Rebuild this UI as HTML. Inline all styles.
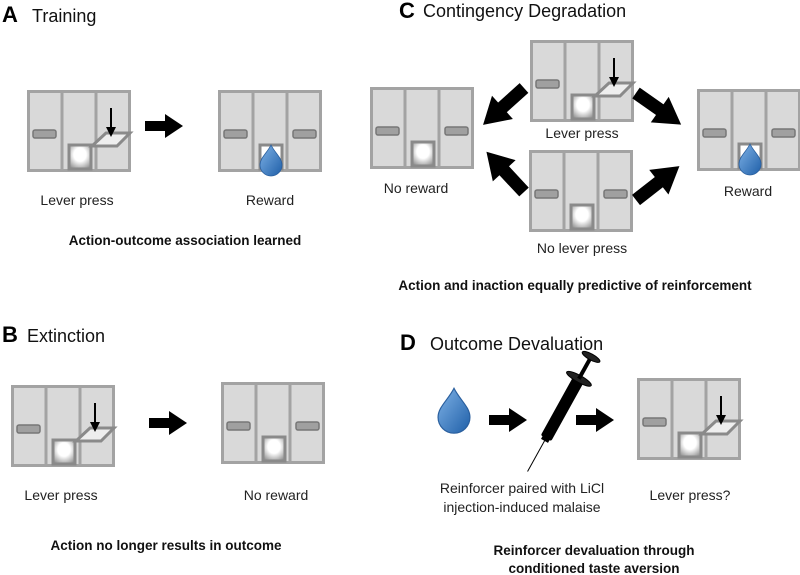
<!DOCTYPE html>
<html><head><style>
html,body{margin:0;padding:0;background:#fff;}
svg{display:block;font-family:"Liberation Sans",sans-serif;}
.t{font-size:14px;fill:#222;}
.b{font-size:13.5px;font-weight:bold;fill:#111;}
.h{font-size:18px;fill:#111;}
.L{font-size:22px;font-weight:bold;fill:#000;}
</style></head><body>
<svg width="800" height="575" viewBox="0 0 800 575" xmlns="http://www.w3.org/2000/svg">
<defs>
<radialGradient id="cg" cx="0.5" cy="0.4" r="0.7"><stop offset="0.4" stop-color="#fff"/><stop offset="1" stop-color="#8a8a8a"/></radialGradient>
<linearGradient id="dg" x1="0" y1="0" x2="1" y2="1"><stop offset="0" stop-color="#7fb2e6"/><stop offset="1" stop-color="#1f5fa8"/></linearGradient>
<g id="frame">
<rect x="1.5" y="1.5" width="101" height="79" fill="#d9d9d9" stroke="#a3a3a3" stroke-width="3"/>
<line x1="35" y1="2" x2="35" y2="80" stroke="#a3a3a3" stroke-width="3"/>
<line x1="69" y1="2" x2="69" y2="80" stroke="#a3a3a3" stroke-width="3"/>
<rect x="6" y="40" width="23" height="8" rx="2" fill="#a0a0a0" stroke="#777" stroke-width="1.5"/>
</g>
<g id="cup"><rect x="42" y="55" width="22" height="24" fill="url(#cg)" stroke="#8a8a8a" stroke-width="3"/></g>
<g id="rl"><rect x="75" y="40" width="23" height="8" rx="2" fill="#a0a0a0" stroke="#777" stroke-width="1.5"/></g>
<g id="press">
<polygon points="65,56 79,43 103,43 90,56" fill="#eeeeee" stroke="#8a8a8a" stroke-width="3"/>
<line x1="84" y1="18" x2="84" y2="44" stroke="#000" stroke-width="2"/>
<polygon points="79,37 89,37 84,47" fill="#000"/>
</g>
<path id="drop" d="M0,-15 C4,-7 11,-2 11,5 A11,11 0 0 1 -11,5 C-11,-2 -4,-7 0,-15Z" fill="url(#dg)" stroke="#2a5f9e" stroke-width="0.8"/>
<g id="bLP"><use href="#frame"/><use href="#cup"/><use href="#press"/></g>
<g id="bNR"><use href="#frame"/><use href="#cup"/><use href="#rl"/></g>
<g id="bRW"><use href="#frame"/><rect x="42" y="55" width="22" height="24" fill="#fff" stroke="#8a8a8a" stroke-width="3"/><use href="#rl"/><use href="#drop" transform="translate(53,70)"/></g>
<g id="arr"><rect x="0" y="-5" width="22" height="10" fill="#000"/><polygon points="20,-12 38,0 20,12" fill="#000"/></g>
</defs>

<!-- A -->
<text x="2" y="22" class="L">A</text><text x="32" y="22" class="h">Training</text>
<use href="#bLP" x="27" y="90"/>
<use href="#arr" x="145" y="126"/>
<use href="#bRW" x="218" y="90"/>
<text x="77" y="205" class="t" text-anchor="middle">Lever press</text>
<text x="270" y="205" class="t" text-anchor="middle">Reward</text>
<text x="185" y="245" class="b" text-anchor="middle">Action-outcome association learned</text>

<!-- C -->
<text x="399" y="18" class="L">C</text><text x="423" y="17" class="h">Contingency Degradation</text>
<use href="#bLP" x="530" y="40"/>
<use href="#bNR" x="370" y="87"/>
<use href="#bNR" x="529" y="150"/>
<use href="#bRW" x="697" y="89"/>
<use href="#arr" transform="translate(524,88) rotate(138) scale(1.45,1.3)"/>
<use href="#arr" transform="translate(524,192) rotate(-133) scale(1.45,1.3)"/>
<use href="#arr" transform="translate(636,93) rotate(35) scale(1.45,1.3)"/>
<use href="#arr" transform="translate(636,200) rotate(-38) scale(1.45,1.3)"/>
<text x="582" y="138" class="t" text-anchor="middle">Lever press</text>
<text x="582" y="253" class="t" text-anchor="middle">No lever press</text>
<text x="416" y="193" class="t" text-anchor="middle">No reward</text>
<text x="748" y="196" class="t" text-anchor="middle">Reward</text>
<text x="575" y="290" class="b" text-anchor="middle">Action and inaction equally predictive of reinforcement</text>

<!-- B -->
<text x="2" y="342" class="L">B</text><text x="27" y="342" class="h">Extinction</text>
<use href="#bLP" x="11" y="385"/>
<use href="#arr" x="149" y="423"/>
<use href="#bNR" x="221" y="382"/>
<text x="61" y="500" class="t" text-anchor="middle">Lever press</text>
<text x="276" y="500" class="t" text-anchor="middle">No reward</text>
<text x="166" y="550" class="b" text-anchor="middle">Action no longer results in outcome</text>

<!-- D -->
<text x="400" y="350" class="L">D</text><text x="430" y="350" class="h">Outcome Devaluation</text>
<use href="#drop" transform="translate(454,410) scale(1.45)"/>
<use href="#arr" x="489" y="420"/>
<g transform="translate(545,440) rotate(29)">
<line x1="0" y1="0" x2="0" y2="36" stroke="#000" stroke-width="1"/>
<rect x="-4" y="-3" width="8" height="4" fill="#000"/>
<rect x="-6" y="-70" width="12" height="68" fill="#000" rx="2"/>
<ellipse cx="0" cy="-70" rx="14" ry="3.5" fill="#222" stroke="#000"/>
<rect x="-2" y="-95" width="4" height="25" fill="#000"/>
<ellipse cx="0" cy="-95" rx="10" ry="3" fill="#222" stroke="#000"/>
</g>
<use href="#arr" x="576" y="420"/>
<use href="#bLP" x="637" y="378"/>
<text x="522" y="493" class="t" text-anchor="middle">Reinforcer paired with LiCl</text>
<text x="522" y="512" class="t" text-anchor="middle">injection-induced malaise</text>
<text x="690" y="500" class="t" text-anchor="middle">Lever press?</text>
<text x="594" y="555" class="b" text-anchor="middle">Reinforcer devaluation through</text>
<text x="594" y="573" class="b" text-anchor="middle">conditioned taste aversion</text>
</svg>
</body></html>
